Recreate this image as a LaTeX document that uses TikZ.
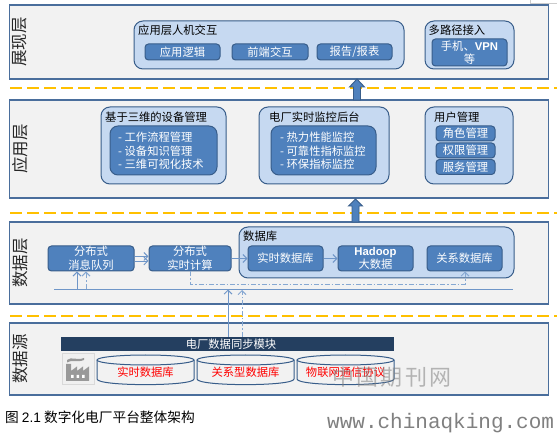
\documentclass[tikz,border=0pt]{standalone}
\usepackage{fontspec}
\setmainfont{Noto Sans CJK SC}
\newfontfamily\latinfont{Liberation Sans}
\newfontfamily\monofont{Liberation Mono}
\usetikzlibrary{arrows.meta}
\definecolor{layerfill}{HTML}{F2F2F2}
\definecolor{layerline}{HTML}{4A6E9C}
\definecolor{panelfill}{HTML}{C6D9F1}
\definecolor{panelline}{HTML}{385D8A}
\definecolor{innerfill}{HTML}{4F81BD}
\definecolor{flowcol}{HTML}{6F96C8}
\definecolor{flowlight}{HTML}{86A8D2}
\definecolor{barfill}{HTML}{243F60}
\definecolor{dashcol}{HTML}{FFC000}
\newcommand{\normsz}{\fontsize{11.3}{13.6}\selectfont}
\tikzset{
  x=1pt,y=-1pt,
  layer/.style={draw=layerline,fill=layerfill,line width=1.1pt,inner sep=0pt,anchor=center},
  layerlabel/.style={rotate=90,font=\fontsize{16.5}{18}\selectfont,text=black!85,inner sep=0pt},
  panel/.style={draw=panelline,fill=panelfill,line width=1pt,rounded corners=9pt,inner sep=0pt},
  inner/.style={draw=panelline,fill=innerfill,line width=1pt,rounded corners=3.5pt,inner sep=0pt,text=white,font=\normsz,align=center},
  innerbig/.style={inner,rounded corners=8pt,align=left},
  title/.style={font=\normsz,text=black,inner sep=0pt,anchor=west},
  sep/.style={draw=dashcol,line width=1.5pt,dash pattern=on 12pt off 5pt},
  flow/.style={draw=flowcol,line width=0.9pt,-{Straight Barb[length=4pt,width=8pt]}},
  flowdash/.style={flow,draw=flowlight,dash pattern=on 5pt off 2pt on 1.5pt off 2pt},
  busline/.style={draw=flowcol,line width=0.9pt},
  blockarrow/.style={draw=panelline,fill=innerfill,line width=0.9pt},
  cyl/.style={draw=panelline,fill=layerfill,line width=1pt},
  redtext/.style={text=red,font=\normsz,inner sep=0pt},
}
\begin{document}
\begin{tikzpicture}
\useasboundingbox (0,0) rectangle (557,435);
\fill[white] (0,0) rectangle (557,435);
\draw[black!20,line width=0.5pt] (530,0) -- (530,3) -- (557,3);

% layers
\node[layer,minimum width=538.5pt,minimum height=74pt] (L1) at (279,42) {};
\node[layer,minimum width=538.5pt,minimum height=98pt] (L2) at (279,149) {};
\node[layer,minimum width=538.5pt,minimum height=82pt] (L3) at (279,263) {};
\node[layer,minimum width=538.5pt,minimum height=72pt] (L4) at (279,359) {};
\node[layerlabel] (t1) at (20,42) {展现层};
\node[layerlabel] (t2) at (20,149) {应用层};
\node[layerlabel] (t3) at (20,263) {数据层};
\node[layerlabel] (t4) at (20,359) {数据源};

% separators
\coordinate (s1a) at (10,88); \coordinate (s1b) at (557,88);
\coordinate (s2a) at (10,213); \coordinate (s2b) at (557,213);
\coordinate (s3a) at (10,316); \coordinate (s3b) at (557,316);
\draw[sep] (s1a) -- (s1b);
\draw[sep] (s2a) -- (s2b);
\draw[sep] (s3a) -- (s3b);

% presentation layer
\node[panel,minimum width=270pt,minimum height=48pt] (hci) at (269,45) {};
\node[title] (hcit) at (138,30) {应用层人机交互};
\node[inner,minimum width=75pt,minimum height=16pt] (p1) at (182.5,52) {应用逻辑};
\node[inner,minimum width=76pt,minimum height=16pt] (p2) at (270,52) {前端交互};
\node[inner,minimum width=75pt,minimum height=16pt] (p3) at (354.5,52) {报告/报表};
\node[panel,minimum width=89pt,minimum height=48pt] (mp) at (469.5,45) {};
\node[title] (mpt) at (428.5,30) {多路径接入};
\node[inner,minimum width=75pt,minimum height=27pt] (mpi) at (469.5,52.5) {手机、{\latinfont\bfseries VPN}\\[-0.5pt]等};

% application layer
\node[panel,minimum width=125pt,minimum height=77pt] (a1) at (163.5,145.5) {};
\node[title] (a1t) at (105,117) {基于三维的设备管理};
\node[innerbig,minimum width=107pt,minimum height=49pt] (a1i) at (163.5,150.5) {};
\node[text=white,font=\normsz,align=left,inner sep=0pt,anchor=west] (a1x) at (118,151) {- 工作流程管理\\- 设备知识管理\\- 三维可视化技术};
\node[panel,minimum width=130pt,minimum height=77pt] (a2) at (324,145.5) {};
\node[title] (a2t) at (269,117) {电厂实时监控后台};
\node[innerbig,minimum width=105pt,minimum height=49pt] (a2i) at (323.5,150.5) {};
\node[text=white,font=\normsz,align=left,inner sep=0pt,anchor=west] (a2x) at (280,151) {- 热力性能监控\\- 可靠性指标监控\\- 环保指标监控};
\node[panel,minimum width=88pt,minimum height=77pt] (a3) at (469,145.5) {};
\node[title] (a3t) at (434,117) {用户管理};
\node[inner,minimum width=59pt,minimum height=15pt] (u1) at (465.5,133.5) {角色管理};
\node[inner,minimum width=59pt,minimum height=15pt] (u2) at (465.5,150.5) {权限管理};
\node[inner,minimum width=59pt,minimum height=15pt] (u3) at (465.5,167) {服务管理};

% data layer
\node[panel,minimum width=275pt,minimum height=51pt] (db) at (376.5,252.5) {};
\node[title] (dbt) at (243,236) {数据库};
\node[inner,minimum width=86pt,minimum height=25pt] (mq) at (91,258.5) {分布式\\消息队列};
\node[inner,minimum width=82pt,minimum height=25pt] (rt) at (190,258.5) {分布式\\实时计算};
\node[inner,minimum width=75pt,minimum height=25pt] (d1) at (285.5,258.5) {实时数据库};
\node[inner,minimum width=75pt,minimum height=25pt] (d2) at (375.5,258.5) {{\latinfont\bfseries Hadoop}\\大数据};
\node[inner,minimum width=75pt,minimum height=25pt] (d3) at (464.5,258.5) {关系数据库};

\draw[flow] (mq.east |- 0,256.5) -- (rt.west |- 0,256.5);
\draw[flow] (mq.east |- 0,261) -- (rt.west |- 0,261);
\draw[flow] (rt.east) -- (d1.west);
\draw[flow] (d1.east) -- (d2.west);

\coordinate (busL) at (54,289); \coordinate (busR) at (513,289);
\draw[busline] (busL) -- (busR);
\coordinate (b1) at (77,289); \coordinate (b2) at (86,289);
\draw[flow] (b1) -- (b1 |- mq.south);
\draw[flowdash] (b2) -- (b2 |- mq.south);
\coordinate (c1) at (190,284); \coordinate (c2) at (465,284);
\draw[flowdash] (rt.south) -- (c1) -- (c2) -- (c2 |- d3.south);

% source layer
\node[fill=barfill,minimum width=333pt,minimum height=14pt,inner sep=0pt,text=white,font=\normsz] (sync) at (227.5,344) {\hspace*{7pt}电厂数据同步模块};
\coordinate (e1) at (228,289.5); \coordinate (e2) at (242,290);
\draw[flow] (e1 |- sync.north) -- (e1);
\draw[flowdash] (e2 |- sync.north) -- (e2);

% factory icon
\node[draw=black!15,fill=black!6,line width=1pt,minimum width=32pt,minimum height=31pt,inner sep=0pt] (icon) at (78,369.5) {};
\fill[black!40] (66,381) -- (66,364) -- (71,364) -- (71,371) -- (77,366.5) -- (77,371) -- (83,366.5) -- (83,371) -- (89,366.5) -- (89,381) -- cycle;
\fill[black!40] (67,360) .. controls (72,356) and (76,361) .. (84,358) -- (84,360) .. controls (77,363) and (72,359) .. (67,362.5) -- cycle;
\fill[white] (71,375) rectangle (73.5,378) (76.5,375) rectangle (79,378) (82,375) rectangle (84.5,378);

% cylinders
\draw[cyl] (97,360) -- (97,379) .. controls (97,386.5) and (194,386.5) .. (194,379) -- (194,360);
\draw[cyl] (145.5,360) ellipse [x radius=48.5pt,y radius=5pt];
\draw[cyl] (197,360) -- (197,379) .. controls (197,386.5) and (294,386.5) .. (294,379) -- (294,360);
\draw[cyl] (245.5,360) ellipse [x radius=48.5pt,y radius=5pt];
\draw[cyl] (297,360) -- (297,379) .. controls (297,386.5) and (394,386.5) .. (394,379) -- (394,360);
\draw[cyl] (345.5,360) ellipse [x radius=48.5pt,y radius=5pt];
\node[redtext] (r1) at (145.5,372) {实时数据库};
\node[redtext] (r2) at (245.5,372) {关系型数据库};
\node[redtext] (r3) at (345.5,372) {物联网通信协议};

% block arrows
\coordinate (ar1) at (357,100);
\coordinate (ar2) at (355.5,222);
\draw[blockarrow] (ar1) ++(-3.5,0) -- ++(0,-13) -- ++(-4,0) -- ++(7.5,-8) -- ++(7.5,8) -- ++(-4,0) -- ++(0,13) -- cycle;
\draw[blockarrow] (ar2) ++(-3.5,0) -- ++(0,-16) -- ++(-3.5,0) -- ++(7,-7) -- ++(7,7) -- ++(-3.5,0) -- ++(0,16) -- cycle;

% caption and watermark
\node[inner sep=0pt,anchor=west,font=\fontsize{13.7}{16}\selectfont] (cap) at (5,417) {图 {\latinfont 2.1} 数字化电厂平台整体架构};
\node[inner sep=0pt,anchor=center,text=black!50,opacity=0.55,font=\fontsize{22}{24}\selectfont] (wm1) at (392,377) {中\hspace{2.5pt}国\hspace{2.5pt}期\hspace{2.5pt}刊\hspace{2.5pt}网};
\node[inner sep=0pt,anchor=west,text=black!50,font=\fontsize{21}{24}\selectfont\monofont] (wm2) at (327,423) {www.chinaqking.com};
\end{tikzpicture}
\end{document}
